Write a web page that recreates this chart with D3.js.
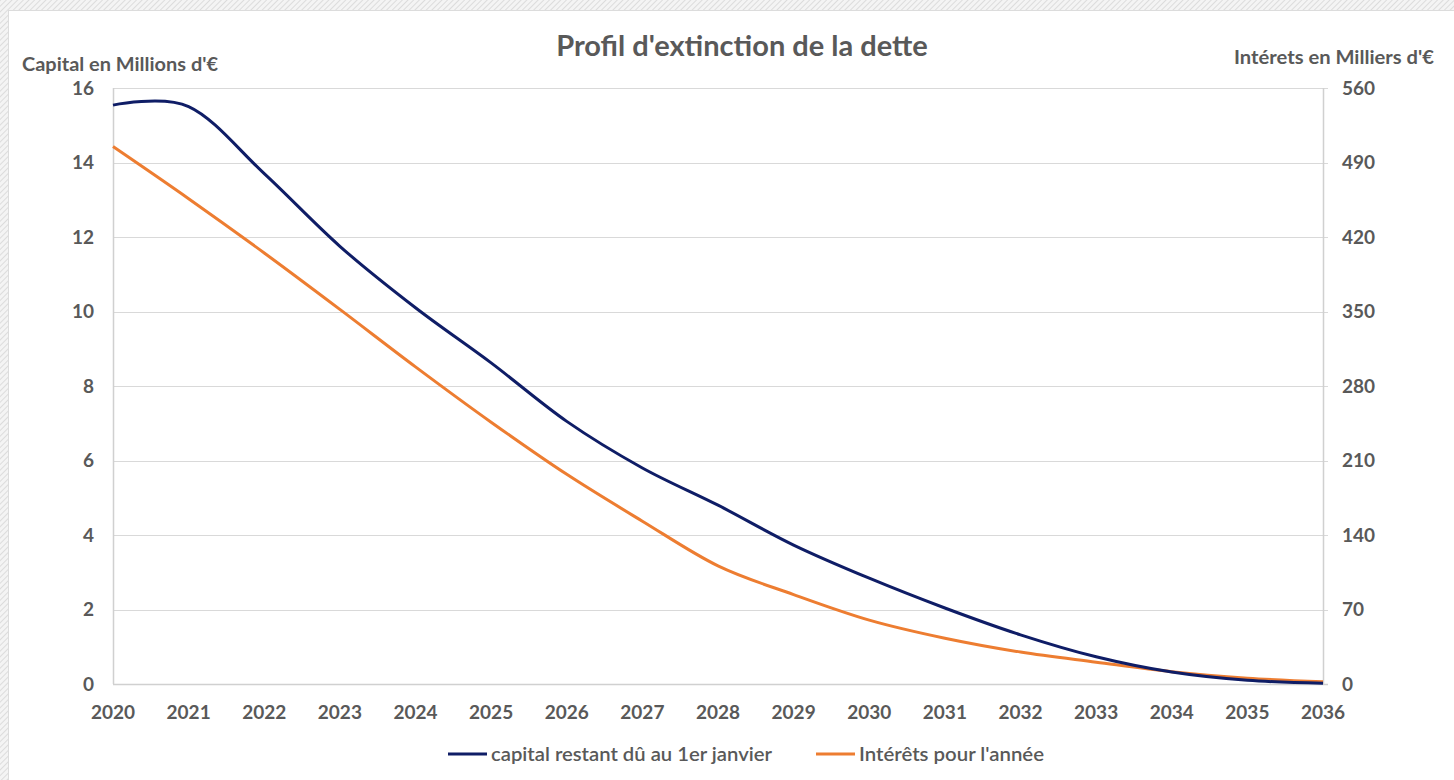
<!DOCTYPE html>
<html>
<head>
<meta charset="utf-8">
<script src="https://cdn.jsdelivr.net/npm/d3@7"></script>
<style>
  html, body { margin: 0; padding: 0; background: #fff; }
  svg { display: block; font-family: Lato, "Open Sans", sans-serif; }
</style>
</head>
<body>
<div id="chart"></div>
<script>
const years = d3.range(2020, 2037);
const capital = [15.54, 15.5, 13.7, 11.75, 10.1, 8.62, 7.05, 5.8, 4.8, 3.73, 2.84, 2.04, 1.32, 0.73, 0.32, 0.1, 0.02];
const interets = [505, 456, 405, 352, 298, 246, 197, 153, 111, 84, 60, 43, 30, 20.5, 11.5, 5.5, 2];
const leftTicks = [0, 2, 4, 6, 8, 10, 12, 14, 16];
const rightTicks = [0, 70, 140, 210, 280, 350, 420, 490, 560];
const seriesNames = ["capital restant dû au 1er janvier", "Intérêts pour l'année"];

const W = 1454, H = 780;
const margin = { top: 88, right: 131, bottom: 96, left: 113 };
const NAVY = "#0f1d66", ORANGE = "#ed7d31", TEXT = "#595959";

const svg = d3.select("#chart").append("svg").attr("width", W).attr("height", H);

// fond hachuré + zone blanche
const defs = svg.append("defs");
const pat = defs.append("pattern")
  .attr("id", "hatch").attr("width", 4).attr("height", 4)
  .attr("patternUnits", "userSpaceOnUse")
  .attr("patternTransform", "rotate(45)");
pat.append("rect").attr("width", 4).attr("height", 4).attr("fill", "#f4f4f4");
pat.append("line").attr("x1", 0).attr("y1", 0).attr("x2", 0).attr("y2", 4)
  .attr("stroke", "#d4d4d4").attr("stroke-width", 1.5);

svg.append("rect").attr("width", W).attr("height", H).attr("fill", "url(#hatch)");
svg.append("rect").attr("x", 8.5).attr("y", 10.5).attr("width", W).attr("height", H)
  .attr("fill", "#fff").attr("stroke", "#dcdcdc");

const x = d3.scaleLinear().domain([2020, 2036]).range([margin.left, W - margin.right]);
const yL = d3.scaleLinear().domain([0, 16]).range([H - margin.bottom, margin.top]);
const yR = d3.scaleLinear().domain([0, 560]).range([H - margin.bottom, margin.top]);

// grille
svg.append("g").selectAll("line").data(leftTicks.slice(1)).join("line")
  .attr("x1", x(2020)).attr("x2", x(2036) + 5)
  .attr("y1", d => Math.round(yL(d)) + 0.5).attr("y2", d => Math.round(yL(d)) + 0.5)
  .attr("stroke", "#d9d9d9").attr("stroke-width", 1);

// axes
const axisStroke = "#d0d0d0";
svg.append("line").attr("x1", x(2020) + 0.5).attr("x2", x(2020) + 0.5)
  .attr("y1", yL(16)).attr("y2", yL(0)).attr("stroke", axisStroke).attr("stroke-width", 1.5);
svg.append("line").attr("x1", x(2036) + 0.5).attr("x2", x(2036) + 0.5)
  .attr("y1", yL(16)).attr("y2", yL(0)).attr("stroke", axisStroke).attr("stroke-width", 1.5);
svg.append("line").attr("x1", x(2020)).attr("x2", x(2036) + 5)
  .attr("y1", yL(0) + 0.5).attr("y2", yL(0) + 0.5).attr("stroke", axisStroke).attr("stroke-width", 1.5);

// labels axe gauche
svg.append("g").selectAll("text").data(leftTicks).join("text")
  .attr("x", 94).attr("y", d => yL(d)).attr("dy", "0.35em")
  .attr("text-anchor", "end").attr("fill", TEXT)
  .style("font-size", "19px").style("font-weight", "700")
  .text(d => d);

// labels axe droit
svg.append("g").selectAll("text").data(rightTicks).join("text")
  .attr("x", 1342).attr("y", d => yR(d)).attr("dy", "0.35em")
  .attr("text-anchor", "start").attr("fill", TEXT)
  .style("font-size", "19px").style("font-weight", "700")
  .text(d => d);

// labels axe x
svg.append("g").selectAll("text").data(years).join("text")
  .attr("x", d => x(d)).attr("y", 712).attr("dy", "0.35em")
  .attr("text-anchor", "middle").attr("fill", TEXT)
  .style("font-size", "19px").style("font-weight", "700")
  .text(d => d);

// titres
svg.append("text").attr("x", 742).attr("y", 46).attr("dy", "0.35em")
  .attr("text-anchor", "middle").attr("fill", TEXT)
  .style("font-size", "29px").style("font-weight", "700")
  .text("Profil d'extinction de la dette");
svg.append("text").attr("x", 22).attr("y", 64).attr("dy", "0.35em")
  .attr("fill", TEXT).style("font-size", "19.5px").style("font-weight", "700")
  .attr("textLength", 196).attr("lengthAdjust", "spacingAndGlyphs")
  .text("Capital en Millions d'€");
svg.append("text").attr("x", 1234).attr("y", 57).attr("dy", "0.35em")
  .attr("fill", TEXT).style("font-size", "19.5px").style("font-weight", "700")
  .attr("textLength", 200).attr("lengthAdjust", "spacingAndGlyphs")
  .text("Intérets en Milliers d'€");

// courbes lissées
const lineL = d3.line().x((d, i) => x(years[i])).y(d => yL(d)).curve(d3.curveCardinal.tension(0));
const lineR = d3.line().x((d, i) => x(years[i])).y(d => yR(d)).curve(d3.curveCardinal.tension(0));

svg.append("path").datum(interets).attr("d", lineR)
  .attr("fill", "none").attr("stroke", ORANGE).attr("stroke-width", 3);
svg.append("path").datum(capital).attr("d", lineL)
  .attr("fill", "none").attr("stroke", NAVY).attr("stroke-width", 3);

// légende
const legend = [
  { name: seriesNames[0], color: NAVY, x: 448, w: 281 },
  { name: seriesNames[1], color: ORANGE, x: 816, w: 185 }
];
const lg = svg.append("g").selectAll("g").data(legend).join("g")
  .attr("transform", d => `translate(${d.x},754)`);
lg.append("line").attr("x1", 0).attr("x2", 39).attr("y1", 0).attr("y2", 0)
  .attr("stroke", d => d.color).attr("stroke-width", 3);
lg.append("text").attr("x", 43).attr("dy", "0.35em").attr("fill", TEXT)
  .style("font-size", "20px").style("font-weight", "600")
  .attr("textLength", d => d.w).attr("lengthAdjust", "spacingAndGlyphs")
  .text(d => d.name);
</script>
</body>
</html>
